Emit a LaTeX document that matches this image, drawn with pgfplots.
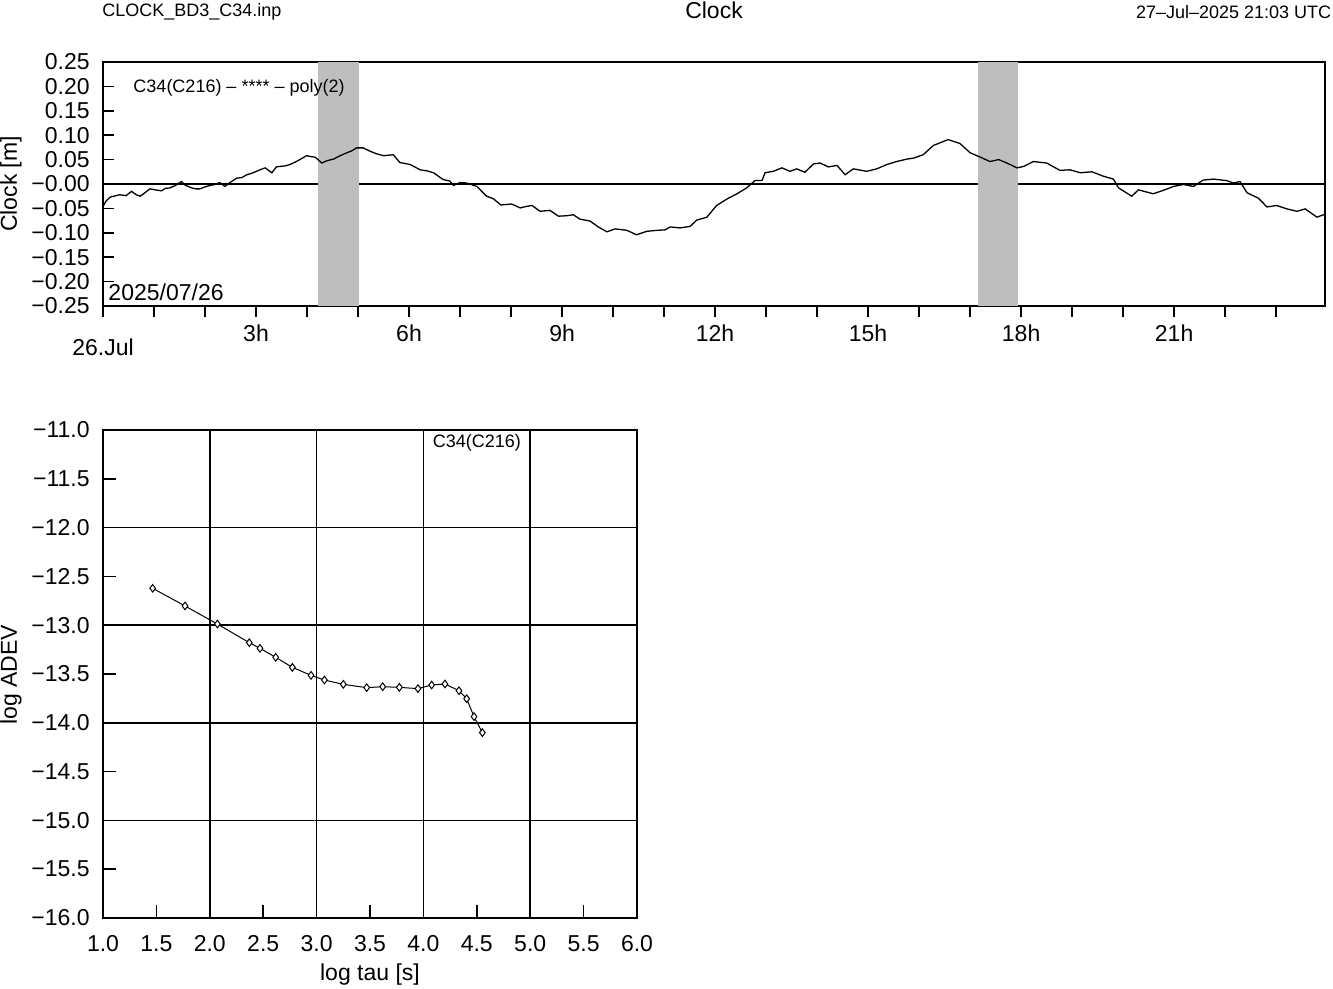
\documentclass[border=0pt]{standalone}
\usepackage{fontspec}
\setmainfont{Liberation Sans}
\usepackage{pgfplots}
\pgfplotsset{compat=1.18}
\definecolor{band}{RGB}{190,190,190}
\newcommand{\bigf}{\fontsize{11.5}{13}\selectfont}
\newcommand{\smallf}{\fontsize{9}{11}\selectfont}
\begin{document}
\begin{tikzpicture}
\useasboundingbox (0,0) rectangle (666.5pt,494.5pt);
% header
\node[anchor=west, font=\smallf, inner sep=0pt] at (51pt,488.5pt) {CLOCK\_BD3\_C34.inp};
\node[font=\bigf, inner sep=0pt] at (357pt,489.5pt) {Clock};
\node[anchor=east, font=\smallf, inner sep=0pt] at (665.8pt,488.5pt) {27–Jul–2025 21:03 UTC};
\node[font=\bigf, rotate=90, inner sep=0pt] at (5.5pt,402.5pt) {Clock [m]};
\node[font=\bigf, rotate=90, inner sep=0pt] at (5.5pt,157pt) {log ADEV};
\node[font=\bigf, inner sep=0pt] at (185pt,7pt) {log tau [s]};

\begin{axis}[
  at={(51.5pt,341.5pt)}, anchor=south west, scale only axis,
  width=611pt, height=122pt,
  xmin=0, xmax=23.958, ymin=-0.25, ymax=0.25,
  axis line style={line width=0.8pt},
  xtick={0,...,23},
  xticklabels={,,,3h,,,6h,,,9h,,,12h,,,15h,,,18h,,,21h,,},
  ytick={-0.25,-0.20,-0.15,-0.10,-0.05,0,0.05,0.10,0.15,0.20,0.25},
  yticklabels={−0.25,−0.20,−0.15,−0.10,−0.05,−0.00,0.05,0.10,0.15,0.20,0.25},
  tick pos=left,
  xtick align=outside, ytick align=inside,
  major tick length=5.5pt,
  tick style={black, line width=0.8pt},
  tick label style={font=\bigf},
  yticklabel style={inner sep=0pt, anchor=east, xshift=-6.5pt},
  xticklabel style={inner sep=0pt, anchor=north, yshift=-3.5pt},
  clip=true,
]
\addplot[black, line width=0.9pt] coordinates {(0,0) (23.958,0)};
\addplot[fill=band, draw=none] coordinates {(4.22,-0.25) (4.22,0.25) (5.02,0.25) (5.02,-0.25)} -- cycle;
\addplot[fill=band, draw=none] coordinates {(17.16,-0.25) (17.16,0.25) (17.94,0.25) (17.94,-0.25)} -- cycle;
\addplot[black, line width=0.65pt] table {
0.00 -0.046
0.06 -0.035
0.14 -0.027
0.25 -0.024
0.33 -0.022
0.45 -0.024
0.56 -0.015
0.65 -0.022
0.73 -0.025
0.82 -0.018
0.92 -0.010
1.02 -0.012
1.15 -0.014
1.22 -0.009
1.31 -0.008
1.42 -0.003
1.54 0.005
1.62 -0.003
1.74 -0.008
1.82 -0.010
1.90 -0.010
2.00 -0.006
2.10 -0.003
2.20 -0.001
2.29 0.003
2.39 -0.005
2.49 0.003
2.62 0.012
2.72 0.013
2.82 0.019
2.92 0.022
3.01 0.026
3.10 0.030
3.18 0.033
3.31 0.023
3.40 0.035
3.47 0.036
3.57 0.037
3.67 0.040
3.77 0.045
3.86 0.050
3.99 0.058
4.08 0.056
4.16 0.055
4.29 0.043
4.40 0.048
4.52 0.051
4.65 0.058
4.78 0.064
4.88 0.068
4.97 0.074
5.10 0.074
5.24 0.067
5.36 0.062
5.50 0.058
5.69 0.060
5.82 0.044
6.02 0.040
6.22 0.029
6.35 0.027
6.48 0.023
6.67 0.009
6.80 0.006
6.87 -0.003
7.00 0.003
7.13 0.002
7.33 -0.005
7.52 -0.025
7.65 -0.030
7.80 -0.043
8.01 -0.041
8.18 -0.049
8.30 -0.046
8.41 -0.044
8.57 -0.056
8.76 -0.054
8.93 -0.066
9.10 -0.065
9.22 -0.063
9.35 -0.072
9.55 -0.076
9.71 -0.088
9.88 -0.098
10.04 -0.092
10.27 -0.095
10.46 -0.104
10.66 -0.097
10.86 -0.095
11.02 -0.094
11.12 -0.088
11.31 -0.090
11.51 -0.087
11.64 -0.074
11.84 -0.068
12.03 -0.044
12.23 -0.031
12.43 -0.020
12.62 -0.008
12.78 0.007
12.92 0.007
12.98 0.023
13.14 0.026
13.31 0.033
13.47 0.026
13.60 0.031
13.76 0.024
13.93 0.041
14.06 0.043
14.22 0.035
14.39 0.038
14.55 0.019
14.71 0.031
14.97 0.026
15.17 0.031
15.37 0.040
15.56 0.046
15.76 0.051
15.89 0.053
16.08 0.060
16.28 0.079
16.57 0.091
16.80 0.083
17.00 0.064
17.20 0.055
17.39 0.046
17.56 0.050
17.72 0.043
17.92 0.033
18.05 0.036
18.24 0.046
18.50 0.043
18.76 0.028
18.96 0.029
19.16 0.023
19.39 0.025
19.61 0.016
19.81 0.010
19.91 -0.008
20.17 -0.025
20.30 -0.012
20.59 -0.020
20.79 -0.013
20.99 -0.005
21.18 -0.001
21.38 -0.005
21.57 0.008
21.77 0.010
22.03 0.007
22.16 0.002
22.29 0.005
22.43 -0.018
22.65 -0.029
22.82 -0.047
23.01 -0.044
23.21 -0.051
23.41 -0.056
23.57 -0.051
23.80 -0.068
23.93 -0.063
23.958 -0.062
};
\node[anchor=west, font=\smallf, inner sep=0pt] at (axis cs:0.59,0.197) {C34(C216) – **** – poly(2)};
\node[anchor=west, font=\bigf, inner sep=0pt] at (axis cs:0.1,-0.221) {2025/07/26};
\end{axis}
\node[font=\bigf, inner sep=0pt] at (51.5pt,321pt) {26.Jul};

\begin{axis}[
  at={(51.5pt,35.5pt)}, anchor=south west, scale only axis,
  width=267pt, height=244pt,
  xmin=1, xmax=6, ymin=-16, ymax=-11,
  axis line style={line width=0.9pt},
  xtick={1,2,3,4,5,6},
  xticklabels={1.0,2.0,3.0,4.0,5.0,6.0},
  extra x ticks={1.5,2.5,3.5,4.5,5.5},
  extra x tick labels={1.5,2.5,3.5,4.5,5.5},
  ytick={-16,-15,-14,-13,-12,-11},
  yticklabels={−16.0,−15.0,−14.0,−13.0,−12.0,−11.0},
  extra y ticks={-15.5,-14.5,-13.5,-12.5,-11.5},
  extra y tick labels={−15.5,−14.5,−13.5,−12.5,−11.5},
  extra tick style={grid=none},
  grid=major,
  major grid style={black, line width=0.8pt},
  tick pos=left, tick align=inside,
  major tick length=6.5pt,
  tick style={black, line width=0.8pt},
  tick label style={font=\bigf},
  yticklabel style={inner sep=0pt, anchor=east, xshift=-6.5pt},
  xticklabel style={inner sep=0pt, anchor=north, yshift=-8.5pt},
]
\addplot[black, line width=0.5pt, mark=diamond*, mark size=1.9pt, mark options={fill=white, line width=0.5pt}] coordinates {
(1.465,-12.622)
(1.768,-12.803)
(2.071,-12.988)
(2.370,-13.179)
(2.470,-13.237)
(2.617,-13.329)
(2.773,-13.432)
(2.948,-13.514)
(3.073,-13.562)
(3.250,-13.606)
(3.469,-13.640)
(3.619,-13.630)
(3.775,-13.637)
(3.949,-13.650)
(4.077,-13.613)
(4.202,-13.602)
(4.333,-13.671)
(4.405,-13.753)
(4.474,-13.937)
(4.552,-14.101)
};
\node[font=\smallf, inner sep=0pt] at (axis cs:4.5,-11.13) {C34(C216)};
\end{axis}
\end{tikzpicture}
\end{document}
